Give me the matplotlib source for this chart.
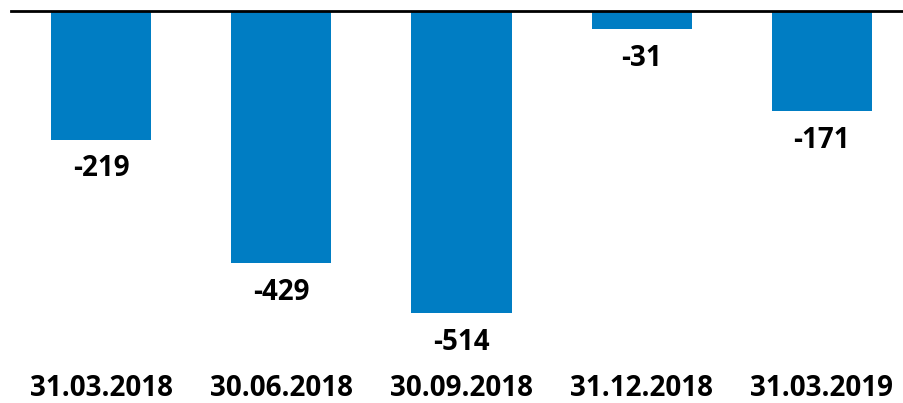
import matplotlib.pyplot as plt
import matplotlib.transforms as mtransforms

# Data
dates = ['31.03.2018', '30.06.2018', '30.09.2018', '31.12.2018', '31.03.2019']
values = [-219, -429, -514, -31, -171]

bar_color = '#007DC3'
plt.rcParams['font.family'] = ['Open Sans', 'DejaVu Sans']

fig = plt.figure(figsize=(9.04, 4.03), dpi=100)
# axes spans from x=11px to beyond the right edge, zero line at y=11px from top
ax = fig.add_axes([11 / 904, 0, 901 / 904, 392 / 403])

x = list(range(len(dates)))
ax.bar(x, values, width=0.555, color=bar_color)
ax.axhline(0, color='black', linewidth=2, clip_on=False)

ax.set_xlim(-0.5, 4.5)
ax.set_ylim(-667, 0)
ax.axis('off')

# value labels under each bar
for xi, v in zip(x, values):
    ax.annotate(f'{v}', (xi, v), textcoords='offset points', xytext=(0, -21),
                ha='center', va='center', fontsize=20, fontweight='bold', color='black')

# category labels at the bottom of the figure
trans = mtransforms.blended_transform_factory(ax.transData, fig.transFigure)
for xi, d in zip(x, dates):
    ax.text(xi, 15 / 403, d, transform=trans, ha='center', va='center',
            fontsize=20, fontweight='bold', color='black')

fig.savefig('out.png', dpi=100)
